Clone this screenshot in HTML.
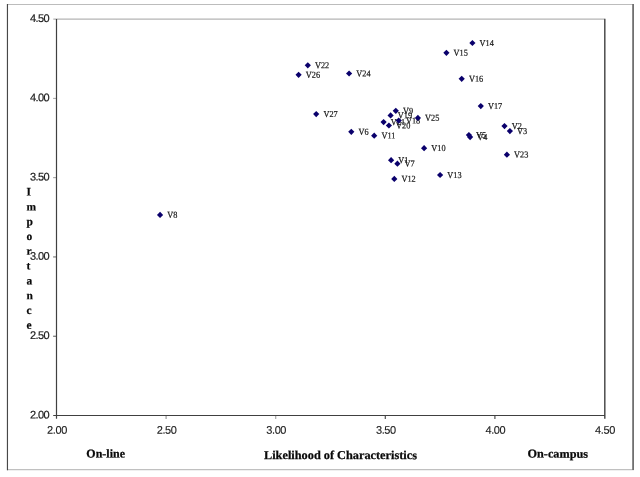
<!DOCTYPE html>
<html><head><meta charset="utf-8"><title>Chart</title>
<style>
html,body{margin:0;padding:0;background:#fff;}
body{width:640px;height:477px;overflow:hidden;position:relative;font-family:"Liberation Sans",sans-serif;}
svg{position:absolute;left:0;top:0;display:block;will-change:transform;transform:translateZ(0);text-rendering:geometricPrecision;}
.tk{font-family:"Liberation Sans",sans-serif;font-size:11px;fill:#1a1a1a;stroke:#1a1a1a;stroke-width:0.18px;}
.tx{stroke-width:0.12px;}
.lb{font-family:"Liberation Serif",serif;font-size:9.1px;fill:#1c1c1c;stroke:#1c1c1c;stroke-width:0.22px;}
.tt{font-family:"Liberation Serif",serif;font-weight:bold;font-size:12px;fill:#0a0a0a;stroke:#0a0a0a;stroke-width:0.25px;}
.vt{font-family:"Liberation Serif",serif;font-weight:bold;font-size:11.5px;fill:#0a0a0a;stroke:#0a0a0a;stroke-width:0.2px;}
</style></head><body>
<svg width="640" height="477" viewBox="0 0 640 477">
<line x1="7.00" y1="4.55" x2="634.00" y2="4.55" stroke="#bcbcbc" stroke-width="1.1"/>
<line x1="7.00" y1="469.65" x2="634.00" y2="469.65" stroke="#c0c0c0" stroke-width="1.2"/>
<line x1="633.10" y1="4.00" x2="633.10" y2="470.00" stroke="#707070" stroke-width="1.8"/>
<line x1="7.45" y1="4.00" x2="7.45" y2="470.20" stroke="#484848" stroke-width="1.15"/>
<line x1="53.30" y1="19.10" x2="604.50" y2="19.10" stroke="#b4b4b4" stroke-width="1.1"/>
<line x1="604.80" y1="18.70" x2="604.80" y2="418.70" stroke="#4c4c4c" stroke-width="1.5"/>
<line x1="53.10" y1="98.38" x2="56.00" y2="98.38" stroke="#a4a4a4" stroke-width="1"/>
<line x1="53.10" y1="177.66" x2="56.00" y2="177.66" stroke="#9c9c9c" stroke-width="1"/>
<line x1="53.10" y1="256.94" x2="56.00" y2="256.94" stroke="#686868" stroke-width="1"/>
<line x1="53.10" y1="336.22" x2="56.00" y2="336.22" stroke="#585858" stroke-width="1"/>
<line x1="166.10" y1="416.00" x2="166.10" y2="418.90" stroke="#9a9a9a" stroke-width="1.2"/>
<line x1="275.70" y1="416.00" x2="275.70" y2="418.90" stroke="#a8a8a8" stroke-width="1.2"/>
<line x1="385.30" y1="416.00" x2="385.30" y2="418.90" stroke="#505050" stroke-width="1.2"/>
<line x1="494.90" y1="416.00" x2="494.90" y2="418.90" stroke="#505050" stroke-width="1.2"/>
<line x1="56.50" y1="19.10" x2="56.50" y2="418.70" stroke="#404040" stroke-width="1.2"/>
<line x1="53.20" y1="415.50" x2="605.00" y2="415.50" stroke="#404040" stroke-width="1.2"/>
<text class="tk" transform="translate(49.50,22.00) rotate(0.05)" text-anchor="end" textLength="19.5" lengthAdjust="spacing">4.50</text>
<text class="tk" transform="translate(49.50,101.28) rotate(0.05)" text-anchor="end" textLength="19.5" lengthAdjust="spacing">4.00</text>
<text class="tk" transform="translate(49.50,180.56) rotate(0.05)" text-anchor="end" textLength="19.5" lengthAdjust="spacing">3.50</text>
<text class="tk" transform="translate(49.50,259.84) rotate(0.05)" text-anchor="end" textLength="19.5" lengthAdjust="spacing">3.00</text>
<text class="tk" transform="translate(49.50,339.12) rotate(0.05)" text-anchor="end" textLength="19.5" lengthAdjust="spacing">2.50</text>
<text class="tk" transform="translate(49.50,418.40) rotate(0.05)" text-anchor="end" textLength="19.5" lengthAdjust="spacing">2.00</text>
<text class="tk tx" transform="translate(57.20,433.80) rotate(0.05)" text-anchor="middle" textLength="20.2" lengthAdjust="spacing">2.00</text>
<text class="tk tx" transform="translate(166.80,433.80) rotate(0.05)" text-anchor="middle" textLength="20.2" lengthAdjust="spacing">2.50</text>
<text class="tk tx" transform="translate(276.40,433.80) rotate(0.05)" text-anchor="middle" textLength="20.2" lengthAdjust="spacing">3.00</text>
<text class="tk tx" transform="translate(386.00,433.80) rotate(0.05)" text-anchor="middle" textLength="20.2" lengthAdjust="spacing">3.50</text>
<text class="tk tx" transform="translate(495.60,433.80) rotate(0.05)" text-anchor="middle" textLength="20.2" lengthAdjust="spacing">4.00</text>
<text class="tk tx" transform="translate(605.20,433.80) rotate(0.05)" text-anchor="middle" textLength="20.2" lengthAdjust="spacing">4.50</text>
<text class="tt" transform="translate(86.30,457.50) rotate(0.05)">On-line</text>
<text class="tt" transform="translate(264.00,459.00) rotate(0.05)" textLength="153" lengthAdjust="spacingAndGlyphs">Likelihood of Characteristics</text>
<text class="tt" transform="translate(527.50,457.60) rotate(0.05)" textLength="60.5" lengthAdjust="spacingAndGlyphs">On-campus</text>
<text class="vt" transform="translate(26.60,195.60) rotate(0.05)">I</text>
<text class="vt" transform="translate(26.60,210.40) rotate(0.05)">m</text>
<text class="vt" transform="translate(26.60,225.20) rotate(0.05)">p</text>
<text class="vt" transform="translate(26.60,240.00) rotate(0.05)">o</text>
<text class="vt" transform="translate(26.60,254.80) rotate(0.05)">r</text>
<text class="vt" transform="translate(26.60,269.60) rotate(0.05)">t</text>
<text class="vt" transform="translate(26.60,284.40) rotate(0.05)">a</text>
<text class="vt" transform="translate(26.60,299.20) rotate(0.05)">n</text>
<text class="vt" transform="translate(26.60,314.00) rotate(0.05)">c</text>
<text class="vt" transform="translate(26.60,328.80) rotate(0.05)">e</text>
<text class="lb" transform="translate(398.30,163.10) rotate(0.05) scale(0.910,1)">V1</text>
<text class="lb" transform="translate(511.70,129.00) rotate(0.05) scale(0.910,1)">V2</text>
<text class="lb" transform="translate(517.10,134.00) rotate(0.05) scale(0.910,1)">V3</text>
<text class="lb" transform="translate(477.30,140.00) rotate(0.05) scale(0.910,1)">V4</text>
<text class="lb" transform="translate(476.10,137.90) rotate(0.05) scale(0.910,1)">V5</text>
<text class="lb" transform="translate(358.50,134.70) rotate(0.05) scale(0.910,1)">V6</text>
<text class="lb" transform="translate(404.60,166.60) rotate(0.05) scale(0.910,1)">V7</text>
<text class="lb" transform="translate(167.25,217.85) rotate(0.05) scale(0.910,1)">V8</text>
<text class="lb" transform="translate(403.00,113.70) rotate(0.05) scale(0.910,1)">V9</text>
<text class="lb" transform="translate(431.30,151.10) rotate(0.05) scale(0.910,1)">V10</text>
<text class="lb" transform="translate(381.40,138.60) rotate(0.05) scale(0.910,1)">V11</text>
<text class="lb" transform="translate(401.50,181.80) rotate(0.05) scale(0.910,1)">V12</text>
<text class="lb" transform="translate(447.30,177.90) rotate(0.05) scale(0.910,1)">V13</text>
<text class="lb" transform="translate(479.60,45.90) rotate(0.05) scale(0.910,1)">V14</text>
<text class="lb" transform="translate(453.60,55.70) rotate(0.05) scale(0.910,1)">V15</text>
<text class="lb" transform="translate(468.90,81.70) rotate(0.05) scale(0.910,1)">V16</text>
<text class="lb" transform="translate(488.00,109.00) rotate(0.05) scale(0.910,1)">V17</text>
<text class="lb" transform="translate(405.90,123.50) rotate(0.05) scale(0.910,1)">V18</text>
<text class="lb" transform="translate(397.80,118.30) rotate(0.05) scale(0.910,1)">V19</text>
<text class="lb" transform="translate(396.10,128.40) rotate(0.05) scale(0.910,1)">V20</text>
<text class="lb" transform="translate(390.80,125.00) rotate(0.05) scale(0.910,1)">V21</text>
<text class="lb" transform="translate(315.00,68.20) rotate(0.05) scale(0.910,1)">V22</text>
<text class="lb" transform="translate(514.10,157.60) rotate(0.05) scale(0.910,1)">V23</text>
<text class="lb" transform="translate(356.30,76.40) rotate(0.05) scale(0.910,1)">V24</text>
<text class="lb" transform="translate(425.10,120.80) rotate(0.05) scale(0.910,1)">V25</text>
<text class="lb" transform="translate(305.80,77.70) rotate(0.05) scale(0.910,1)">V26</text>
<text class="lb" transform="translate(323.40,117.00) rotate(0.05) scale(0.910,1)">V27</text>
<polygon points="388.00,160.20 391.10,157.10 394.20,160.20 391.10,163.30" fill="#0a006c"/>
<polygon points="501.40,126.10 504.50,123.00 507.60,126.10 504.50,129.20" fill="#0a006c"/>
<polygon points="506.80,131.10 509.90,128.00 513.00,131.10 509.90,134.20" fill="#0a006c"/>
<polygon points="467.00,137.10 470.10,134.00 473.20,137.10 470.10,140.20" fill="#0a006c"/>
<polygon points="465.80,135.00 468.90,131.90 472.00,135.00 468.90,138.10" fill="#0a006c"/>
<polygon points="348.20,131.80 351.30,128.70 354.40,131.80 351.30,134.90" fill="#0a006c"/>
<polygon points="394.30,163.70 397.40,160.60 400.50,163.70 397.40,166.80" fill="#0a006c"/>
<polygon points="156.95,214.95 160.05,211.85 163.15,214.95 160.05,218.05" fill="#0a006c"/>
<polygon points="392.70,110.80 395.80,107.70 398.90,110.80 395.80,113.90" fill="#0a006c"/>
<polygon points="421.00,148.20 424.10,145.10 427.20,148.20 424.10,151.30" fill="#0a006c"/>
<polygon points="371.10,135.70 374.20,132.60 377.30,135.70 374.20,138.80" fill="#0a006c"/>
<polygon points="391.20,178.90 394.30,175.80 397.40,178.90 394.30,182.00" fill="#0a006c"/>
<polygon points="437.00,175.00 440.10,171.90 443.20,175.00 440.10,178.10" fill="#0a006c"/>
<polygon points="469.30,43.00 472.40,39.90 475.50,43.00 472.40,46.10" fill="#0a006c"/>
<polygon points="443.30,52.80 446.40,49.70 449.50,52.80 446.40,55.90" fill="#0a006c"/>
<polygon points="458.60,78.80 461.70,75.70 464.80,78.80 461.70,81.90" fill="#0a006c"/>
<polygon points="477.70,106.10 480.80,103.00 483.90,106.10 480.80,109.20" fill="#0a006c"/>
<polygon points="395.60,120.60 398.70,117.50 401.80,120.60 398.70,123.70" fill="#0a006c"/>
<polygon points="387.50,115.40 390.60,112.30 393.70,115.40 390.60,118.50" fill="#0a006c"/>
<polygon points="385.80,125.50 388.90,122.40 392.00,125.50 388.90,128.60" fill="#0a006c"/>
<polygon points="380.50,122.10 383.60,119.00 386.70,122.10 383.60,125.20" fill="#0a006c"/>
<polygon points="304.70,65.30 307.80,62.20 310.90,65.30 307.80,68.40" fill="#0a006c"/>
<polygon points="503.80,154.70 506.90,151.60 510.00,154.70 506.90,157.80" fill="#0a006c"/>
<polygon points="346.00,73.50 349.10,70.40 352.20,73.50 349.10,76.60" fill="#0a006c"/>
<polygon points="414.80,117.90 417.90,114.80 421.00,117.90 417.90,121.00" fill="#0a006c"/>
<polygon points="295.50,74.80 298.60,71.70 301.70,74.80 298.60,77.90" fill="#0a006c"/>
<polygon points="313.10,114.10 316.20,111.00 319.30,114.10 316.20,117.20" fill="#0a006c"/>
</svg>
</body></html>
